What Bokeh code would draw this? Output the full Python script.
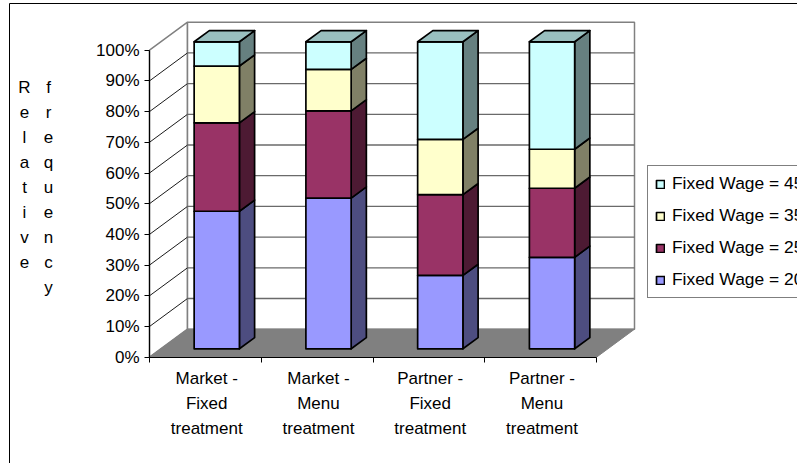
from bokeh.plotting import figure
from bokeh.models import Range1d, LinearAxis, FixedTicker, Legend, LegendItem
from bokeh.core.properties import value
from bokeh.embed import file_html
from bokeh.resources import INLINE
import numpy as np

# ---- data ----
categories = ["Market -\nFixed\ntreatment", "Market -\nMenu\ntreatment",
              "Partner -\nFixed\ntreatment", "Partner -\nMenu\ntreatment"]
wage_20 = [44.8, 49.1, 23.9, 29.8]
wage_25 = [28.8, 28.4, 26.3, 22.5]
wage_35 = [18.5, 13.5, 18.0, 12.7]
wage_45 = [7.9, 9.0, 31.8, 35.0]
series_names = ["Fixed Wage = 20", "Fixed Wage = 25", "Fixed Wage = 35", "Fixed Wage = 45"]
y_ticks = list(range(0, 101, 10))
axis_title_parts = ["Relative", "frequency"]

# ---- styles / layout ----
W, H = 797, 463
FONT = "Liberation Sans"
FS = "17px"
front = ["#9999FF", "#993366", "#FFFFCC", "#CCFFFF"]
side = ["#4D4D80", "#4D1A33", "#808066", "#668080"]
top_col = "#99BFBF"
AX_X, AX_Y = 149.0, 356.7        # pixel of the origin
PX_CAT, PX_PCT = 111.75, 3.07    # pixels per category / per percent
DEPTH_X, DEPTH_Y = 38 / PX_CAT, 28 / PX_PCT   # wall depth in data units
BAR_D0, BAR_D1 = 0.30, 0.70      # bar front/back as fraction of depth
BAR_W = 0.405

def dx(px): return (px - AX_X) / PX_CAT
def dy(py): return (AX_Y - py) / PX_PCT

p = figure(width=W, height=H, output_backend="svg", toolbar_location=None,
           x_range=Range1d(dx(0), dx(W)), y_range=Range1d(dy(H), dy(0)),
           min_border=0, outline_line_color=None, background_fill_color="white",
           border_fill_color="white")
p.margin = (0, 0, 0, 0)
p.xaxis.visible = False
p.yaxis.visible = False
p.grid.visible = False

n = len(categories)
# outer chart border
p.line([dx(9), dx(9), dx(W)], [dy(H), dy(3), dy(3)], line_color="#000000", line_width=1)

# walls
p.patch([0, DEPTH_X, DEPTH_X, 0], [0, DEPTH_Y, 100 + DEPTH_Y, 100],
        fill_color="white", line_color="#808080", line_width=1.5)
p.patch([DEPTH_X, n + DEPTH_X, n + DEPTH_X, DEPTH_X], [DEPTH_Y, DEPTH_Y, 100 + DEPTH_Y, 100 + DEPTH_Y],
        fill_color="white", line_color="#808080", line_width=1.5)
# floor
p.patch([0, DEPTH_X, n + DEPTH_X, n], [0, DEPTH_Y, DEPTH_Y, 0],
        fill_color="#808080", line_color="#808080", line_width=1)
# gridlines
inner = y_ticks[1:-1]
p.multi_line([[0, DEPTH_X] for _ in inner], [[v, v + DEPTH_Y] for v in inner],
             line_color="#1a1a1a", line_width=1)
p.multi_line([[DEPTH_X, n + DEPTH_X] for _ in inner], [[v + DEPTH_Y] * 2 for v in inner],
             line_color="#6a6a6a", line_width=1.3)

# bars
stacks = np.array([wage_20, wage_25, wage_35, wage_45])
base = np.vstack([np.zeros(n), np.cumsum(stacks, axis=0)[:-1]])
tops = base + stacks
centers = np.arange(n) + 0.5
lefts = centers - BAR_W / 2 + BAR_D0 * DEPTH_X
rights = centers + BAR_W / 2 + BAR_D0 * DEPTH_X
y0 = BAR_D0 * DEPTH_Y
span_x = (BAR_D1 - BAR_D0) * DEPTH_X
span_y = (BAR_D1 - BAR_D0) * DEPTH_Y
EDGE = dict(line_color="#000000", line_width=1.7, line_join="round")
legend_items = []
for s in range(len(stacks)):
    xs = [[r, r + span_x, r + span_x, r] for r in rights]
    ys = [[b + y0, b + y0 + span_y, t + y0 + span_y, t + y0] for b, t in zip(base[s], tops[s])]
    p.patches(xs, ys, fill_color=side[s], **EDGE)
for s in range(len(stacks)):
    r = p.quad(left=lefts, right=rights, bottom=base[s] + y0, top=tops[s] + y0,
               fill_color=front[s], **EDGE)
    legend_items.append(LegendItem(label=series_names[s], renderers=[r]))
# top caps
xs = [[l, r, r + span_x, l + span_x] for l, r in zip(lefts, rights)]
ys = [[t + y0, t + y0, t + y0 + span_y, t + y0 + span_y] for t in tops[-1]]
p.patches(xs, ys, fill_color=top_col, **EDGE)

# axes
yax = LinearAxis(fixed_location=0, ticker=FixedTicker(ticks=y_ticks), bounds=(0, 100),
                 major_label_overrides={v: f"{v}%" for v in y_ticks},
                 major_tick_in=0, major_tick_out=5, minor_tick_line_color=None,
                 major_label_standoff=5, major_label_text_font=FONT,
                 major_label_text_font_size=FS, major_label_text_color="#000000",
                 axis_line_color="#000000", axis_line_width=1.2, major_tick_line_color="#000000")
p.add_layout(yax, "left")
xticks = list(range(n + 1))
xax = LinearAxis(fixed_location=0, ticker=FixedTicker(ticks=xticks), bounds=(0, n),
                 major_label_overrides={v: "" for v in xticks},
                 major_tick_in=0, major_tick_out=5, minor_tick_line_color=None,
                 axis_line_color="#000000", axis_line_width=1.2, major_tick_line_color="#000000")
p.add_layout(xax, "below")

# category labels
p.text(x=centers + 0.012, y=[dy(368)] * n, text=categories, text_align="center", text_baseline="top",
       text_font=value(FONT), text_font_size=FS, text_color="#000000", text_line_height=1.34)

# vertical axis title, stacked letters in two columns
p.text(x=[dx(24), dx(48)], y=[dy(77)] * 2, text=["\n".join(w) for w in axis_title_parts],
       text_align="center", text_baseline="top", text_font=value(FONT), text_font_size=FS,
       text_color="#000000", text_line_height=1.32)

legend = Legend(items=legend_items[::-1], location=(647, H - 298), orientation="vertical",
                label_text_font=FONT, label_text_font_size="17.4px", label_text_color="#000000",
                glyph_width=10, glyph_height=10, spacing=11, padding=7, margin=0,
                label_standoff=7, border_line_color="#000000", border_line_width=1,
                background_fill_color="white", background_fill_alpha=1, click_policy="none")
p.add_layout(legend)

open("out.html", "w").write(file_html(p, INLINE))
